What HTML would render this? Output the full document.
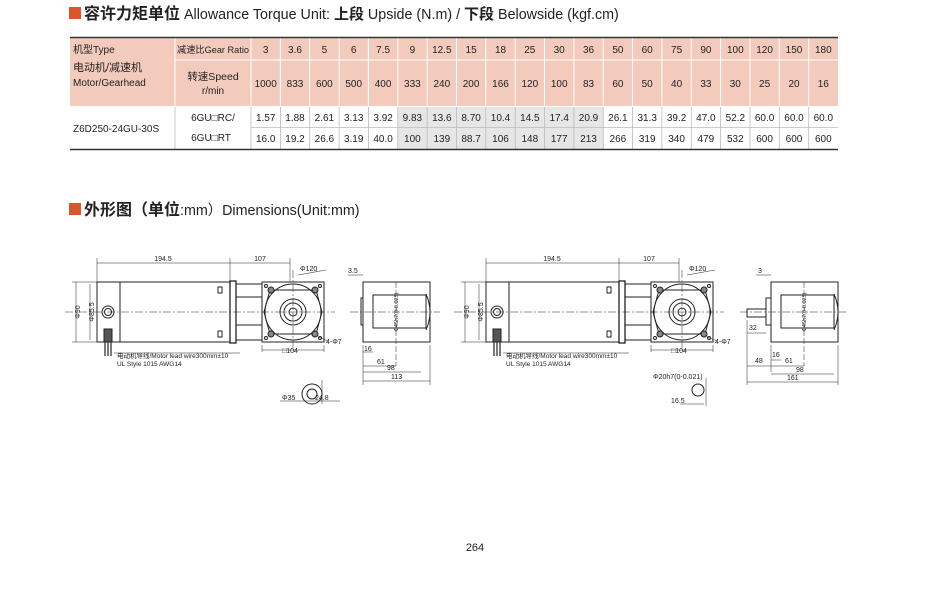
<!DOCTYPE html>
<html><head><meta charset="utf-8"><style>
html,body{margin:0;padding:0;background:#fff;}
body{width:950px;height:602px;overflow:hidden;position:relative;font-family:"Liberation Sans","Noto Sans CJK SC",sans-serif;}
svg text{font-family:"Liberation Sans","Noto Sans CJK SC",sans-serif;}
</style></head><body>
<svg width="950" height="602" viewBox="0 0 950 602" xmlns="http://www.w3.org/2000/svg">
<!-- titles -->
<rect x="69" y="7" width="12" height="12" fill="#d9562a"/>
<text x="84" y="19" font-size="14.3" fill="#222"><tspan font-weight="bold" font-size="16">容许力矩单位</tspan> Allowance Torque Unit: <tspan font-weight="bold" font-size="15">上段</tspan> Upside (N.m) / <tspan font-weight="bold" font-size="15">下段</tspan> Belowside (kgf.cm)</text>
<rect x="69" y="203" width="12" height="12" fill="#d9562a"/>
<text x="84" y="215" font-size="14.3" fill="#222"><tspan font-weight="bold" font-size="16">外形图（单位</tspan>:mm）Dimensions(Unit:mm)</text>

<!-- table -->
<rect x="70" y="38" width="768" height="68" fill="#f3cbbd"/>
<rect x="398" y="107" width="205" height="42" fill="#e6e6e6"/>
<g stroke="#fff" stroke-width="1">
<line x1="175" y1="38" x2="175" y2="106"/>
<line x1="251" y1="38" x2="251" y2="106"/>
<line x1="251" y1="60" x2="838" y2="60"/>
<line x1="175" y1="60" x2="251" y2="60"/>
</g>
<g stroke="#fff">
<line x1="280.4" y1="38" x2="280.4" y2="106"/><line x1="309.7" y1="38" x2="309.7" y2="106"/><line x1="339.1" y1="38" x2="339.1" y2="106"/><line x1="368.4" y1="38" x2="368.4" y2="106"/><line x1="397.8" y1="38" x2="397.8" y2="106"/><line x1="427.1" y1="38" x2="427.1" y2="106"/><line x1="456.5" y1="38" x2="456.5" y2="106"/><line x1="485.8" y1="38" x2="485.8" y2="106"/><line x1="515.2" y1="38" x2="515.2" y2="106"/><line x1="544.5" y1="38" x2="544.5" y2="106"/><line x1="573.9" y1="38" x2="573.9" y2="106"/><line x1="603.2" y1="38" x2="603.2" y2="106"/><line x1="632.6" y1="38" x2="632.6" y2="106"/><line x1="661.9" y1="38" x2="661.9" y2="106"/><line x1="691.3" y1="38" x2="691.3" y2="106"/><line x1="720.6" y1="38" x2="720.6" y2="106"/><line x1="750" y1="38" x2="750" y2="106"/><line x1="779.3" y1="38" x2="779.3" y2="106"/><line x1="808.7" y1="38" x2="808.7" y2="106"/>
</g>
<g stroke="#bbb" stroke-width="0.8">
<line x1="175" y1="106" x2="175" y2="149"/><line x1="251" y1="106" x2="251" y2="149"/>
<line x1="251" y1="127.5" x2="838" y2="127.5"/>
<line x1="280.4" y1="106" x2="280.4" y2="149"/><line x1="309.7" y1="106" x2="309.7" y2="149"/><line x1="339.1" y1="106" x2="339.1" y2="149"/><line x1="368.4" y1="106" x2="368.4" y2="149"/><line x1="397.8" y1="106" x2="397.8" y2="149"/><line x1="427.1" y1="106" x2="427.1" y2="149"/><line x1="456.5" y1="106" x2="456.5" y2="149"/><line x1="485.8" y1="106" x2="485.8" y2="149"/><line x1="515.2" y1="106" x2="515.2" y2="149"/><line x1="544.5" y1="106" x2="544.5" y2="149"/><line x1="573.9" y1="106" x2="573.9" y2="149"/><line x1="603.2" y1="106" x2="603.2" y2="149"/><line x1="632.6" y1="106" x2="632.6" y2="149"/><line x1="661.9" y1="106" x2="661.9" y2="149"/><line x1="691.3" y1="106" x2="691.3" y2="149"/><line x1="720.6" y1="106" x2="720.6" y2="149"/><line x1="750" y1="106" x2="750" y2="149"/><line x1="779.3" y1="106" x2="779.3" y2="149"/><line x1="808.7" y1="106" x2="808.7" y2="149"/>
</g>
<line x1="70" y1="37.5" x2="838" y2="37.5" stroke="#333" stroke-width="1.5"/>
<line x1="70" y1="149.5" x2="838" y2="149.5" stroke="#333" stroke-width="1.5"/>
<line x1="70" y1="106.5" x2="838" y2="106.5" stroke="#fff" stroke-width="1"/>
<g font-size="10" fill="#222">
<text x="73" y="53">机型Type</text>
<text x="73" y="71" font-size="11">电动机/减速机</text>
<text x="73" y="86">Motor/Gearhead</text>
<text x="177" y="53" font-size="9.5" textLength="72" lengthAdjust="spacingAndGlyphs">减速比Gear Ratio</text>
<text x="213" y="80" text-anchor="middle" font-size="10.5">转速Speed</text>
<text x="213" y="94" text-anchor="middle">r/min</text>
<text x="73" y="132">Z6D250-24GU-30S</text>
<text x="213" y="121" text-anchor="middle">6GU□RC/</text>
<text x="211" y="141" text-anchor="middle">6GU□RT</text>
</g>
<g font-size="10" fill="#222" text-anchor="middle">
<text x="265.7" y="53">3</text><text x="295" y="53">3.6</text><text x="324.4" y="53">5</text><text x="353.7" y="53">6</text><text x="383.1" y="53">7.5</text><text x="412.4" y="53">9</text><text x="441.8" y="53">12.5</text><text x="471.1" y="53">15</text><text x="500.5" y="53">18</text><text x="529.8" y="53">25</text><text x="559.2" y="53">30</text><text x="588.5" y="53">36</text><text x="617.9" y="53">50</text><text x="647.2" y="53">60</text><text x="676.6" y="53">75</text><text x="705.9" y="53">90</text><text x="735.3" y="53">100</text><text x="764.6" y="53">120</text><text x="794" y="53">150</text><text x="823.3" y="53">180</text>
<text x="265.7" y="87">1000</text><text x="295" y="87">833</text><text x="324.4" y="87">600</text><text x="353.7" y="87">500</text><text x="383.1" y="87">400</text><text x="412.4" y="87">333</text><text x="441.8" y="87">240</text><text x="471.1" y="87">200</text><text x="500.5" y="87">166</text><text x="529.8" y="87">120</text><text x="559.2" y="87">100</text><text x="588.5" y="87">83</text><text x="617.9" y="87">60</text><text x="647.2" y="87">50</text><text x="676.6" y="87">40</text><text x="705.9" y="87">33</text><text x="735.3" y="87">30</text><text x="764.6" y="87">25</text><text x="794" y="87">20</text><text x="823.3" y="87">16</text>
<text x="265.7" y="121">1.57</text><text x="295" y="121">1.88</text><text x="324.4" y="121">2.61</text><text x="353.7" y="121">3.13</text><text x="383.1" y="121">3.92</text><text x="412.4" y="121">9.83</text><text x="441.8" y="121">13.6</text><text x="471.1" y="121">8.70</text><text x="500.5" y="121">10.4</text><text x="529.8" y="121">14.5</text><text x="559.2" y="121">17.4</text><text x="588.5" y="121">20.9</text><text x="617.9" y="121">26.1</text><text x="647.2" y="121">31.3</text><text x="676.6" y="121">39.2</text><text x="705.9" y="121">47.0</text><text x="735.3" y="121">52.2</text><text x="764.6" y="121">60.0</text><text x="794" y="121">60.0</text><text x="823.3" y="121">60.0</text>
<text x="265.7" y="142">16.0</text><text x="295" y="142">19.2</text><text x="324.4" y="142">26.6</text><text x="353.7" y="142">3.19</text><text x="383.1" y="142">40.0</text><text x="412.4" y="142">100</text><text x="441.8" y="142">139</text><text x="471.1" y="142">88.7</text><text x="500.5" y="142">106</text><text x="529.8" y="142">148</text><text x="559.2" y="142">177</text><text x="588.5" y="142">213</text><text x="617.9" y="142">266</text><text x="647.2" y="142">319</text><text x="676.6" y="142">340</text><text x="705.9" y="142">479</text><text x="735.3" y="142">532</text><text x="764.6" y="142">600</text><text x="794" y="142">600</text><text x="823.3" y="142">600</text>
</g>

<defs>
<g id="motor" fill="none" stroke="#222" stroke-width="1">
<rect x="97" y="282" width="23" height="60"/>
<rect x="120" y="282" width="110" height="60"/>
<rect x="230" y="281" width="6" height="62" stroke-width="1.3"/>
<rect x="218" y="287" width="4" height="6"/><rect x="218" y="331" width="4" height="6"/>
<rect x="236" y="297" width="26" height="28"/>
<line x1="236" y1="284" x2="262" y2="284"/><line x1="236" y1="340" x2="262" y2="340"/>
<circle cx="108" cy="312" r="6"/><circle cx="108" cy="312" r="3.5"/>
<rect x="104" y="329" width="8" height="13" fill="#555"/>
<path d="M105 342 v14 M108 342 v14 M111 342 v14" stroke-width="1.2"/>
<rect x="262" y="282" width="62" height="60"/>
<path d="M270 290 L316 290 L322 312 L316 334 L270 334 L264 312 Z" />
<circle cx="293" cy="312" r="28"/>
<circle cx="293" cy="312" r="13"/><circle cx="293" cy="312" r="9"/><circle cx="293" cy="312" r="4"/>
<circle cx="271" cy="290" r="3" fill="#888"/><circle cx="315" cy="290" r="3" fill="#888"/>
<circle cx="271" cy="334" r="3" fill="#888"/><circle cx="315" cy="334" r="3" fill="#888"/>
<circle cx="266" cy="286" r="1.5"/><circle cx="320" cy="286" r="1.5"/><circle cx="266" cy="338" r="1.5"/><circle cx="320" cy="338" r="1.5"/>
<line x1="65" y1="312" x2="335" y2="312" stroke-dasharray="8 2 2 2" stroke-width="0.5"/>
<line x1="293" y1="270" x2="293" y2="350" stroke-dasharray="8 2 2 2" stroke-width="0.5"/>
<g stroke-width="0.5">
<line x1="97" y1="258" x2="97" y2="282"/><line x1="230" y1="258" x2="230" y2="281"/><line x1="290" y1="258" x2="290" y2="282"/>
<line x1="97" y1="263" x2="230" y2="263"/><line x1="230" y1="263" x2="290" y2="263"/>
<line x1="72" y1="282" x2="97" y2="282"/><line x1="72" y1="342" x2="97" y2="342"/>
<line x1="76" y1="282" x2="76" y2="342"/><line x1="90" y1="284" x2="90" y2="340"/>
<line x1="262" y1="345" x2="262" y2="352"/><line x1="324" y1="345" x2="324" y2="352"/><line x1="262" y1="350" x2="324" y2="350"/>
<line x1="298" y1="275" x2="326" y2="270"/><line x1="318" y1="337" x2="328" y2="341"/>
<line x1="114" y1="353" x2="240" y2="353"/>
</g>
</g>
</defs>
<use href="#motor"/>
<use href="#motor" transform="translate(389,0)"/>
<g font-size="7" fill="#222">
<text x="163" y="261" text-anchor="middle">194.5</text><text x="260" y="261" text-anchor="middle">107</text>
<text x="300" y="271">Φ120</text><text x="282" y="353">□104</text><text x="326" y="344">4-Φ7</text>
<text x="74" y="318" transform="rotate(-90 74 312)" text-anchor="middle">Φ90</text>
<text x="88" y="318" transform="rotate(-90 88 312)" text-anchor="middle">Φ85.5</text>
<text x="117" y="358" font-size="6.5">电动机导线/Motor lead wire300mm±10</text>
<text x="117" y="366" font-size="6.5">UL Style 1015 AWG14</text>
<text x="552" y="261" text-anchor="middle">194.5</text><text x="649" y="261" text-anchor="middle">107</text>
<text x="689" y="271">Φ120</text><text x="671" y="353">□104</text><text x="715" y="344">4-Φ7</text>
<text x="463" y="318" transform="rotate(-90 463 312)" text-anchor="middle">Φ90</text>
<text x="477" y="318" transform="rotate(-90 477 312)" text-anchor="middle">Φ85.5</text>
<text x="506" y="358" font-size="6.5">电动机导线/Motor lead wire300mm±10</text>
<text x="506" y="366" font-size="6.5">UL Style 1015 AWG14</text>
</g>
<g fill="none" stroke="#222" stroke-width="1">
<rect x="363" y="282" width="67" height="60"/>
<rect x="373" y="295" width="53" height="33"/>
<rect x="361" y="298" width="2" height="27"/>
<path d="M426 294 q8 18 0 36"/>
<circle cx="312" cy="394" r="10"/><circle cx="312" cy="394" r="5"/>
<g stroke-width="0.5">
<line x1="350" y1="312" x2="440" y2="312" stroke-dasharray="8 2 2 2"/>
<line x1="363" y1="345" x2="363" y2="385"/><line x1="430" y1="345" x2="430" y2="385"/>
<line x1="363" y1="352" x2="373" y2="352"/><line x1="363" y1="366" x2="396" y2="366"/><line x1="363" y1="372" x2="421" y2="372"/><line x1="363" y1="381" x2="430" y2="381"/>
<line x1="396" y1="282" x2="396" y2="366" stroke-dasharray="6 2"/>
<line x1="348" y1="275" x2="363" y2="275"/>
<line x1="280" y1="401" x2="340" y2="401"/><line x1="322" y1="380" x2="322" y2="404"/>
</g>
</g>
<g font-size="7" fill="#222">
<text x="348" y="273">3.5</text><text x="364" y="351">16</text><text x="377" y="364">61</text><text x="387" y="370">98</text><text x="391" y="379">113</text>
<text x="380" y="330" font-size="5.5" transform="rotate(-90 380 312)" text-anchor="middle">Φ45h7(0-0.025)</text>
<text x="282" y="400">Φ35</text><text x="315" y="400">24.8</text>
</g>
<g fill="none" stroke="#222" stroke-width="1">
<rect x="771" y="282" width="67" height="60"/>
<rect x="781" y="295" width="53" height="33"/>
<rect x="766" y="298" width="5" height="27"/>
<rect x="747" y="309" width="19" height="8"/>
<path d="M834 294 q8 18 0 36"/>
<circle cx="698" cy="390" r="6"/>
<g stroke-width="0.5">
<line x1="740" y1="312" x2="848" y2="312" stroke-dasharray="8 2 2 2"/>
<line x1="747" y1="320" x2="747" y2="385"/><line x1="838" y1="345" x2="838" y2="385"/>
<line x1="771" y1="345" x2="771" y2="372"/>
<line x1="771" y1="360" x2="781" y2="360"/><line x1="747" y1="366" x2="771" y2="366"/><line x1="771" y1="366" x2="804" y2="366"/><line x1="771" y1="374" x2="834" y2="374"/><line x1="747" y1="382" x2="838" y2="382"/>
<line x1="747" y1="333" x2="766" y2="333"/>
<line x1="804" y1="282" x2="804" y2="366" stroke-dasharray="6 2"/>
<line x1="756" y1="275" x2="771" y2="275"/>
<line x1="680" y1="404" x2="704" y2="404"/><line x1="706" y1="378" x2="706" y2="406"/>
</g>
</g>
<g font-size="7" fill="#222">
<text x="758" y="273">3</text><text x="749" y="330">32</text><text x="772" y="357">16</text><text x="755" y="363">48</text><text x="785" y="363">61</text><text x="796" y="372">98</text><text x="787" y="380">161</text>
<text x="788" y="330" font-size="5.5" transform="rotate(-90 788 312)" text-anchor="middle">Φ45h7(0-0.025)</text>
<text x="653" y="379">Φ20h7(0-0.021)</text><text x="671" y="403">16.5</text>
</g>
<text x="475" y="551" font-size="11" fill="#222" text-anchor="middle">264</text>
</svg>
</body></html>
